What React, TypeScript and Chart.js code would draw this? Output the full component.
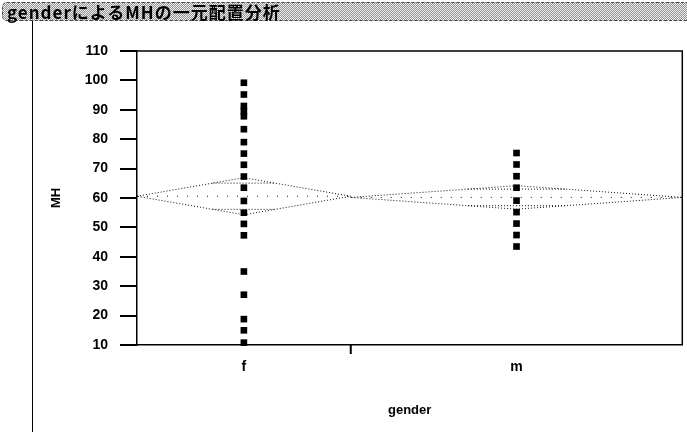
import React, { useEffect, useRef } from 'react';
import { Chart, registerables } from 'chart.js';

Chart.register(...registerables);

// ---- data ----
const titleText = 'genderによるMHの一元配置分析';
const categories = ['f', 'm'];
const groupShares = [0.392, 0.608]; // relative width of each group on the x axis
const fValues = [99.2, 95.2, 91.3, 89.5, 87.8, 83.4, 79.0, 75.1, 71.3, 67.3, 63.5, 59.0, 55.0, 51.2, 47.3, 35.0, 27.1, 18.8, 15.0, 10.8];
const mValues = [75.3, 71.4, 67.4, 63.5, 59.1, 55.2, 51.3, 47.4, 43.5];
const groupMeans = [60.6, 60.2];
const groupCI = [6.3, 4.0];
const yTickValues = [10, 20, 30, 40, 50, 60, 70, 80, 90, 100, 110];
const xAxisTitle = 'gender';
const yAxisTitle = 'MH';

export default function App() {
  const canvasRef = useRef<HTMLCanvasElement | null>(null);

  useEffect(() => {
    document.body.style.margin = '0';
    const canvas = canvasRef.current;
    if (!canvas) return;

    const edges: number[] = [0];
    groupShares.forEach((s, i) => edges.push(edges[i] + s));
    const centers = categories.map((_, i) => (edges[i] + edges[i + 1]) / 2);
    const groupValues = [fValues, mValues];

    const pointSets = groupValues.map((vals, i) => ({
      type: 'scatter' as const,
      label: categories[i],
      data: vals.map((v) => ({ x: centers[i], y: v })),
      pointStyle: 'rect',
      pointRadius: 4.7,
      pointBackgroundColor: '#000',
      pointBorderColor: '#000',
      pointBorderWidth: 0,
      showLine: false,
      clip: false as any,
    }));

    const lineSets: any[] = [];
    categories.forEach((c, i) => {
      const l = edges[i];
      const r = edges[i + 1];
      const mid = centers[i];
      const m = groupMeans[i];
      const h = groupCI[i];
      lineSets.push({
        type: 'scatter',
        label: c + ' diamond',
        data: [
          { x: l, y: m },
          { x: mid, y: m + h },
          { x: r, y: m },
          { x: mid, y: m - h },
          { x: l, y: m },
        ],
        showLine: true,
        borderColor: '#111',
        borderWidth: 1,
        borderDash: [1, 2],
        pointRadius: 0,
        tension: 0,
      });
      lineSets.push({
        type: 'scatter',
        label: c + ' mean',
        data: [
          { x: l, y: m },
          { x: r, y: m },
        ],
        showLine: true,
        borderColor: '#111',
        borderWidth: 1,
        borderDash: [1, 9],
        pointRadius: 0,
      });
      const off = (1 - Math.SQRT1_2) * (r - l) / 2;
      [1, -1].forEach((sgn) => {
        lineSets.push({
          type: 'scatter',
          label: c + ' overlap',
          data: [
            { x: mid - off, y: m + sgn * h * Math.SQRT1_2 },
            { x: mid + off, y: m + sgn * h * Math.SQRT1_2 },
          ],
          showLine: true,
          borderColor: '#111',
          borderWidth: 1,
          borderDash: [1, 2],
          pointRadius: 0,
        });
      });
    });

    const framePlugin = {
      id: 'frame',
      afterDraw(chart: any) {
        const { ctx, chartArea } = chart;
        const xs = chart.scales.x;
        ctx.save();
        ctx.strokeStyle = '#000';
        ctx.lineWidth = 1.5;
        ctx.beginPath();
        ctx.moveTo(chartArea.left, chartArea.top);
        ctx.lineTo(chartArea.right, chartArea.top);
        ctx.lineTo(chartArea.right, chartArea.bottom);
        ctx.stroke();
        // group divider ticks
        ctx.lineWidth = 2;
        for (let i = 1; i < edges.length - 1; i++) {
          const px = xs.getPixelForValue(edges[i]);
          ctx.beginPath();
          ctx.moveTo(px, chartArea.bottom);
          ctx.lineTo(px, chartArea.bottom + 9);
          ctx.stroke();
        }
        ctx.restore();
      },
    };

    const tickFont = { family: '"Liberation Sans", Arial, sans-serif', size: 14, weight: 'bold' as const };

    const chart = new Chart(canvas, {
      type: 'scatter',
      data: { datasets: [...pointSets, ...lineSets] as any },
      options: {
        animation: false,
        responsive: false,
        maintainAspectRatio: false,
        layout: { padding: { top: 51, left: 0, right: 1, bottom: 0 } },
        plugins: { legend: { display: false }, tooltip: { enabled: false } },
        scales: {
          x: {
            type: 'linear',
            min: edges[0],
            max: edges[edges.length - 1],
            afterFit: (s: any) => {
              s.height = 87;
            },
            afterBuildTicks: (s: any) => {
              s.ticks = centers.map((v) => ({ value: v }));
            },
            ticks: {
              callback: (_v: any, i: number) => categories[i],
              font: tickFont,
              color: '#000',
              padding: 14,
              maxRotation: 0,
              autoSkip: false,
            },
            grid: { display: false, drawTicks: false },
            border: { display: true, color: '#000', width: 1.5 },
            title: {
              display: true,
              text: xAxisTitle,
              font: { family: '"Liberation Sans", Arial, sans-serif', size: 13, weight: 'bold' },
              color: '#000',
              padding: { top: 0, bottom: 14 },
            },
          },
          y: {
            type: 'linear',
            min: yTickValues[0],
            max: yTickValues[yTickValues.length - 1],
            afterFit: (s: any) => {
              s.width = 137;
            },
            afterBuildTicks: (s: any) => {
              s.ticks = yTickValues.map((v) => ({ value: v }));
            },
            ticks: {
              font: tickFont,
              color: '#000',
              padding: 12,
            },
            grid: {
              drawOnChartArea: false,
              drawTicks: true,
              tickLength: 17,
              lineWidth: 2,
              color: '#000',
            },
            border: { display: true, color: '#000', width: 1.5 },
            title: {
              display: true,
              text: yAxisTitle,
              font: { family: '"Liberation Sans", Arial, sans-serif', size: 13, weight: 'bold' },
              color: '#000',
              padding: { top: 49, bottom: 0 },
            },
          },
        },
      },
      plugins: [framePlugin],
    });

    return () => chart.destroy();
  }, []);

  return (
    <div style={{ position: 'absolute', left: 0, top: 0, width: 687, height: 432, background: '#fff', overflow: 'hidden' }}>
      <canvas ref={canvasRef} width={687} height={432} style={{ position: 'absolute', left: 0, top: 0 }} />
      <div
        style={{
          position: 'absolute',
          left: 32,
          top: 21,
          width: 0,
          height: 411,
          borderLeft: '1px solid #000',
        }}
      />
      <div
        style={{
          position: 'absolute',
          left: 2,
          top: 2,
          width: 690,
          height: 19,
          boxSizing: 'border-box',
          border: '1px dashed #444',
          borderRadius: '5px 0 0 5px',
          background: 'repeating-conic-gradient(#949494 0% 25%, #eeeeee 0% 50%) 0 0 / 2px 2px',
          font: 'bold 17px "Noto Sans CJK JP", sans-serif',
          lineHeight: '17px',
          letterSpacing: '1px',
          color: '#000',
          paddingLeft: 4,
          whiteSpace: 'nowrap',
        }}
      >
        {titleText}
      </div>
    </div>
  );
}
